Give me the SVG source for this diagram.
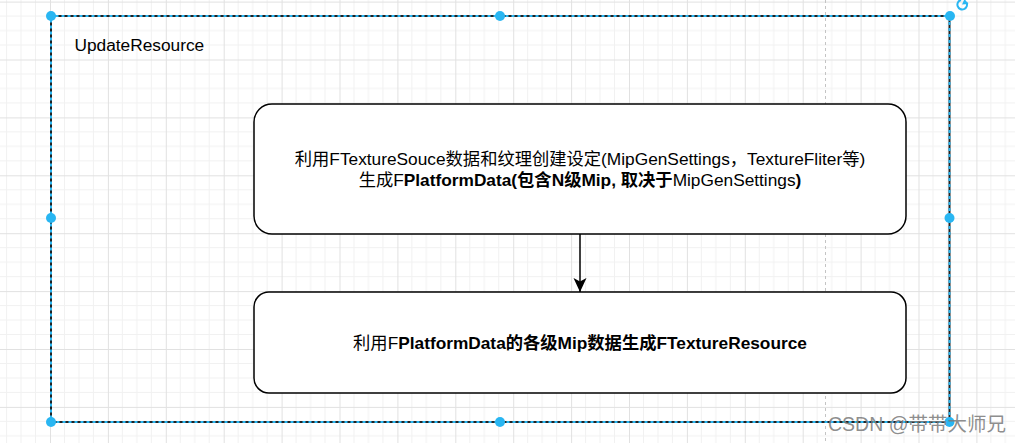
<svg xmlns="http://www.w3.org/2000/svg" width="1015" height="443" viewBox="0 0 1015 443">
  <style>
    .lbl { font-family: "Liberation Sans", "Noto Sans CJK SC", sans-serif; font-size: 17.3px; fill: #000; }
    .b { font-weight: bold; }
    .box { fill: #fff; stroke: #000; stroke-width: 1.5; }
    .handle { fill: #29b6f2; }
    .edge { stroke: #000; stroke-width: 1.5; fill: none; }
  </style>
  <defs>
    <pattern id="grid" patternUnits="userSpaceOnUse" x="50" y="1.6" width="57.9" height="57.9">
      <path d="M14.5 0V57.9M28.95 0V57.9M43.4 0V57.9M0 14.5H57.9M0 28.95H57.9M0 43.4H57.9" stroke="#f1f1f1" stroke-width="1" fill="none"/>
      <path d="M0.5 0V57.9M0 0.5H57.9" stroke="#e1e1e1" stroke-width="1" fill="none"/>
    </pattern>
    <marker id="arrow" markerUnits="userSpaceOnUse" markerWidth="15" markerHeight="15" refX="14" refY="7.5" orient="auto">
      <path d="M0 1 L14 7.5 L0 14 L3.5 7.5 Z" fill="#000"/>
    </marker>
  </defs>

  <rect x="0" y="0" width="1015" height="443" fill="#fff"/>
  <rect x="0" y="0" width="1015" height="443" fill="url(#grid)"/>
  <line x1="825.5" y1="0" x2="825.5" y2="443" stroke="#c4c4c4" stroke-width="1" stroke-dasharray="3 3"/>

  <g id="updateResource">
    <rect x="51" y="16" width="898.5" height="406" fill="none" stroke="#222" stroke-width="2"/>
    <rect x="51" y="16" width="898.5" height="406" fill="none" stroke="#29b6f2" stroke-width="2" stroke-dasharray="3 3" stroke-dashoffset="1.5"/>
    <text class="lbl" x="74.5" y="51">UpdateResource</text>
  </g>

  <g id="node1">
    <rect class="box" x="254" y="104" width="652" height="130" rx="18" ry="18"/>
    <text class="lbl" x="580" y="164.5" text-anchor="middle">利用FTextureSouce数据和纹理创建设定(MipGenSettings，TextureFliter等)</text>
    <text class="lbl" x="580" y="186" text-anchor="middle">生成F<tspan class="b">PlatformData(包含N级Mip, 取决于</tspan>MipGenSettings<tspan class="b">)</tspan></text>
  </g>

  <g id="node2">
    <rect class="box" x="254" y="292" width="652" height="101" rx="15" ry="15"/>
    <text class="lbl" x="580" y="348.5" text-anchor="middle">利用F<tspan class="b">PlatformData的各级Mip数据生成FTextureResource</tspan></text>
  </g>

  <g id="connectors">
    <line class="edge" x1="580" y1="234" x2="580" y2="292" marker-end="url(#arrow)"/>
  </g>

  <g id="selection-handles">
    <circle class="handle" cx="51" cy="16" r="5"/>
    <circle class="handle" cx="500" cy="16" r="5"/>
    <circle class="handle" cx="950" cy="16" r="5"/>
    <circle class="handle" cx="51" cy="218" r="5"/>
    <circle class="handle" cx="949.5" cy="218" r="5"/>
    <circle class="handle" cx="51" cy="422" r="5"/>
    <circle class="handle" cx="500" cy="422" r="5"/>
    <circle class="handle" cx="949.5" cy="422" r="5"/>
    <path d="M966.5 2.5 A4.8 4.8 0 1 1 961 0" fill="none" stroke="#29b6f2" stroke-width="2"/>
    <path d="M964.5 -1 L968.5 4 L962 4.5 Z" fill="#29b6f2"/>
  </g>

  <text x="828" y="431" font-family="'Liberation Sans', 'Noto Sans CJK SC', sans-serif" font-size="19.5px" fill="#7a7a7a" fill-opacity="0.85">CSDN @带带大师兄</text>
</svg>
